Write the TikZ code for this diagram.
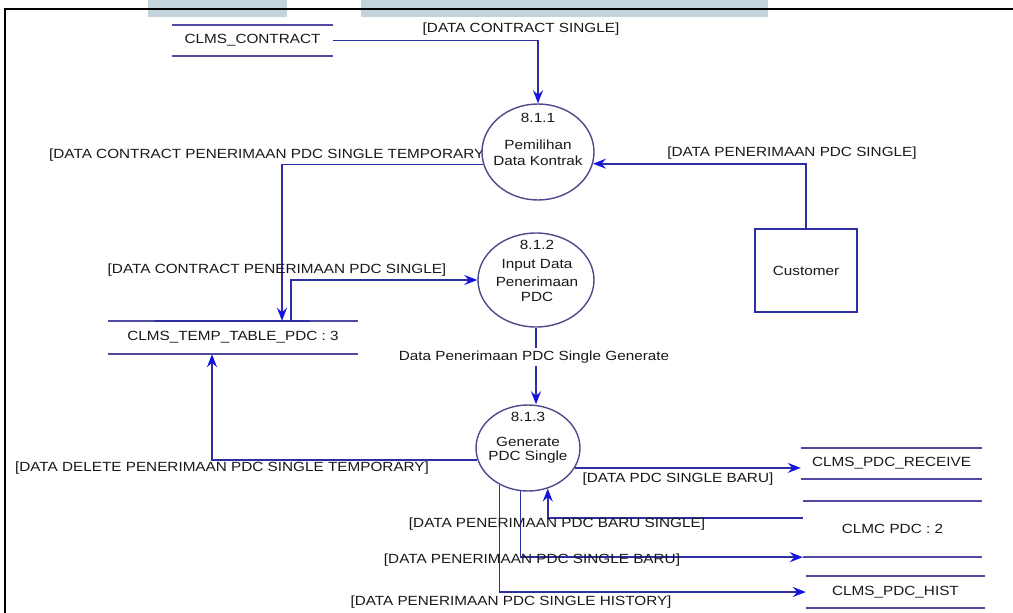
\documentclass[tikz,border=0pt]{standalone}
\usepackage{fontspec}
\setmainfont{Liberation Sans}[FakeStretch=1.15]
\usetikzlibrary{arrows.meta,shapes.geometric}
\definecolor{linec}{RGB}{45,45,165}
\definecolor{tipc}{RGB}{20,20,225}
\definecolor{storec}{RGB}{80,75,160}
\definecolor{procc}{RGB}{75,75,140}
\definecolor{txtc}{RGB}{25,25,25}
\definecolor{blockc}{RGB}{196,212,220}
\newcommand\dfdfont{\fontsize{13.3}{15}\selectfont}
\tikzset{
  lbl/.style={font=\dfdfont, text=txtc, inner sep=1pt},
  storebox/.style={font=\dfdfont, text=txtc, inner sep=0pt},
  storeline/.style={draw=storec, line width=1.7pt},
  proc/.style={ellipse, draw=procc, line width=1.4pt, fill=white, inner sep=0pt},
  flow/.style={draw=linec, line width=1.7pt, -{Stealth[length=13pt,width=10pt,inset=4.5pt,color=tipc]}},
  plain/.style={draw=linec, line width=1.7pt}
}
\begin{document}
\begin{tikzpicture}[x=1pt,y=-1pt]
\useasboundingbox (0,0) rectangle (1013,613);
% header blocks and frame
\fill[blockc] (148,0) rectangle (287,17);
\fill[blockc] (361,0) rectangle (768,17);
\draw[black, line width=2.2pt] (5,613) -- (5,9) -- (1013,9);

% helper coordinates
\coordinate (x212) at (212,0);
\coordinate (x282) at (282,0);
\coordinate (x291) at (291,0);
\coordinate (y518) at (0,518);

% label whose end is hidden behind process 8.1.1
\node[lbl, anchor=west] (l2) at (48,155) {[DATA CONTRACT PENERIMAAN PDC SINGLE TEMPORARY]};

% data stores
\node[storebox, minimum width=161pt, minimum height=31pt] (contract) at (252.5,40.5) {CLMS\_CONTRACT};
\node[storebox, minimum width=250pt, minimum height=33pt] (temp) at (233,337.5) {CLMS\_TEMP\_TABLE\_PDC : 3};
\node[storebox, minimum width=181pt, minimum height=31pt] (receive) at (891.5,463.5) {CLMS\_PDC\_RECEIVE};
\node[storebox, minimum width=179pt, minimum height=56pt] (clmc) at (892.5,529) {CLMC PDC : 2};
\node[storebox, minimum width=179pt, minimum height=32pt] (hist) at (895.5,592) {CLMS\_PDC\_HIST};
\foreach \s in {contract,temp,receive,clmc,hist}{
  \draw[storeline] (\s.north west) -- (\s.north east) (\s.south west) -- (\s.south east);
}
\draw[draw=linec, line width=2.6pt] (155,321) -- (310,321);

% external entity
\node[draw=linec, line width=1.4pt, minimum width=102pt, minimum height=83pt, font=\dfdfont, text=txtc] (cust) at (806,270.5) {Customer};

% processes
\node[proc, minimum width=112pt, minimum height=96pt] (p1) at (538,152) {};
\node[proc, minimum width=116pt, minimum height=94pt] (p2) at (536,280) {};
\node[proc, minimum width=104pt, minimum height=86pt] (p3) at (528,448) {};
\node[lbl] (p1n) at (538,118) {8.1.1};
\node[lbl] (p1a) at (538,145) {Pemilihan};
\node[lbl] (p1b) at (538,161) {Data Kontrak};
\node[lbl] (p2n) at (537,245) {8.1.2};
\node[lbl] (p2a) at (537,265) {Input Data};
\node[lbl] (p2b) at (537,282) {Penerimaan};
\node[lbl] (p2c) at (537,297) {PDC};
\node[lbl] (p3n) at (528,417) {8.1.3};
\node[lbl] (p3a) at (528,442) {Generate};
\node[lbl] (p3b) at (528,457) {PDC Single};

% connectors
\draw[flow] (contract.east) -| (p1.north);
\draw[flow] (p1.193.5) -| (x282 |- temp.north);
\draw[flow] (cust.north) |- (p1.348);
\draw[flow] (x291 |- temp.north) |- (p2.west);
\draw[flow] (p2.south) -- (p3.north -| p2.south);
\draw[flow] (p3.193) -| (x212 |- temp.south);
\draw[flow] (p3.337) -- (p3.337 -| receive.west);
\draw[flow] (clmc.west |- y518) -| (p3.296.7);
\draw[flow] (p3.260.7) |- (clmc.south west);
\draw[flow] (p3.232.3) |- (hist.west);

% flow labels
\node[lbl] (l1) at (521,29) {[DATA CONTRACT SINGLE]};
\node[lbl] (l3) at (792,153) {[DATA PENERIMAAN PDC SINGLE]};
\node[lbl] (l4) at (277,270) {[DATA CONTRACT PENERIMAAN PDC SINGLE]};
\node[lbl, fill=white, inner sep=3pt] (l5) at (534,357) {Data Penerimaan PDC Single Generate};
\node[lbl] (l6) at (222,468) {[DATA DELETE PENERIMAAN PDC SINGLE TEMPORARY]};
\node[lbl] (l7) at (678,479) {[DATA PDC SINGLE BARU]};
\node[lbl] (l8) at (557,524) {[DATA PENERIMAAN PDC BARU SINGLE]};
\node[lbl] (l9) at (532,560) {[DATA PENERIMAAN PDC SINGLE BARU]};
\node[lbl] (l10) at (511,602) {[DATA PENERIMAAN PDC SINGLE HISTORY]};
\end{tikzpicture}
\end{document}
